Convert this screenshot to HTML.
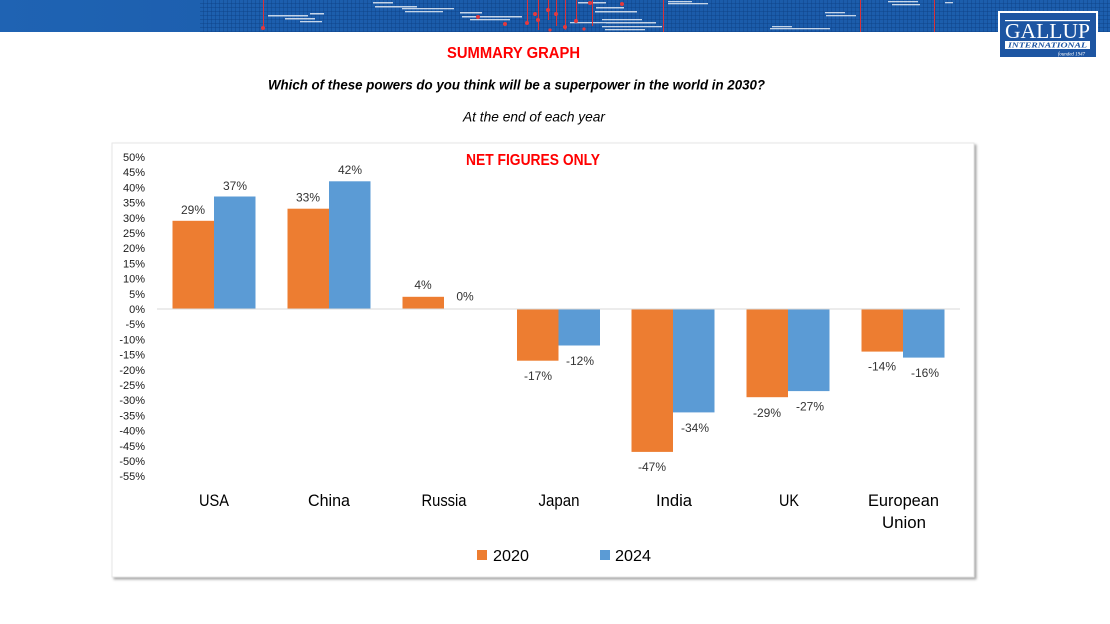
<!DOCTYPE html>
<html><head><meta charset="utf-8"><style>
html,body{margin:0;padding:0;background:#fff;}
svg{display:block;}
text{font-family:"Liberation Sans",sans-serif;}
</style></head><body>
<svg width="1110" height="624" viewBox="0 0 1110 624" xmlns="http://www.w3.org/2000/svg">
<defs>
<linearGradient id="bg" x1="0" y1="0" x2="1" y2="0">
<stop offset="0" stop-color="#1f63b3"/><stop offset="0.5" stop-color="#1a5aa8"/><stop offset="1" stop-color="#1d5fae"/>
</linearGradient>
<linearGradient id="fade" x1="0" y1="0" x2="1" y2="0">
<stop offset="0" stop-color="#fff" stop-opacity="0"/><stop offset="1" stop-color="#fff" stop-opacity="1"/>
</linearGradient>
<pattern id="grid" width="4" height="4" patternUnits="userSpaceOnUse">
<rect x="3" y="0" width="1" height="4" fill="#0d3f82" opacity="0.4"/>
<rect x="0" y="3" width="4" height="1" fill="#0d3f82" opacity="0.4"/>
</pattern>
<filter id="sh" x="-5%" y="-5%" width="110%" height="110%">
<feDropShadow dx="2" dy="2" stdDeviation="1.2" flood-color="#000" flood-opacity="0.35"/>
</filter>
</defs>

<!-- banner -->
<rect x="0" y="0" width="1110" height="32" fill="url(#bg)"/>
<rect x="200" y="0" width="910" height="32" fill="url(#grid)"/>
<g fill="#ffffff" opacity="0.75">
<rect x="268" y="15" width="40" height="1.5"/><rect x="310" y="13" width="14" height="1.5"/><rect x="285" y="18" width="30" height="1.5"/><rect x="300" y="21" width="22" height="1.3"/>
<rect x="373" y="2" width="20" height="1.5"/><rect x="375" y="6" width="42" height="1.5"/>
<rect x="402" y="8" width="52" height="1.3"/><rect x="405" y="11" width="38" height="1.3"/>
<rect x="460" y="12" width="22" height="1.5"/><rect x="462" y="16" width="60" height="1.5"/><rect x="470" y="19" width="40" height="1.3"/>
<rect x="596" y="7" width="28" height="1.5"/><rect x="595" y="11" width="42" height="1.5"/>
<rect x="602" y="19" width="40" height="1.3"/><rect x="606" y="22" width="50" height="1.5"/>
<rect x="578" y="2" width="28" height="1.5"/><rect x="570" y="22" width="56" height="1.3"/>
<rect x="602" y="26" width="60" height="1.3"/><rect x="605" y="29" width="40" height="1.3"/>
<rect x="668" y="1" width="24" height="1.3"/><rect x="668" y="3" width="40" height="1.3"/>
<rect x="770" y="28" width="60" height="1.3"/><rect x="772" y="26" width="20" height="1.3"/>
<rect x="825" y="12" width="20" height="1.3"/><rect x="826" y="15" width="30" height="1.3"/>
<rect x="888" y="1" width="30" height="1.3"/><rect x="892" y="4" width="28" height="1.3"/>
<rect x="945" y="2" width="8" height="1.3"/>
<rect x="1050" y="22" width="22" height="1.3"/>
</g>
<g stroke="#d8323a" stroke-width="1">
<line x1="263.5" y1="0" x2="263.5" y2="29"/>
<line x1="527.5" y1="0" x2="527.5" y2="24"/>
<line x1="538.5" y1="0" x2="538.5" y2="30"/>
<line x1="548.5" y1="0" x2="548.5" y2="20"/>
<line x1="556.5" y1="0" x2="556.5" y2="26"/>
<line x1="565.5" y1="0" x2="565.5" y2="30"/>
<line x1="576.5" y1="0" x2="576.5" y2="22"/>
<line x1="592.5" y1="0" x2="592.5" y2="26"/>
<line x1="663.5" y1="0" x2="663.5" y2="32"/>
<line x1="860.5" y1="0" x2="860.5" y2="32"/>
<line x1="934.5" y1="0" x2="934.5" y2="32"/>
</g>
<g fill="#e23a3f">
<circle cx="263" cy="28" r="2"/><circle cx="478" cy="17" r="2"/><circle cx="505" cy="24" r="2"/>
<circle cx="527" cy="23" r="2"/><circle cx="538" cy="20" r="2"/><circle cx="548" cy="10" r="2"/>
<circle cx="556" cy="14" r="2"/><circle cx="565" cy="27" r="2"/><circle cx="576" cy="21" r="2"/>
<circle cx="535" cy="14" r="2"/><circle cx="590" cy="3" r="2"/><circle cx="622" cy="4" r="2"/>
<circle cx="550" cy="30" r="1.6"/><circle cx="584" cy="29" r="1.6"/>
</g>

<!-- logo -->
<rect x="998" y="11" width="100" height="48" fill="#ffffff"/>
<rect x="999.5" y="12.5" width="97" height="45" fill="#1d55a2" stroke="#ffffff" stroke-width="1"/>
<rect x="1005" y="20" width="85" height="1.2" fill="#ffffff"/>
<text x="1005" y="38" font-size="21" fill="#ffffff" textLength="85" lengthAdjust="spacingAndGlyphs" style="font-family:'Liberation Serif',serif">GALLUP</text>
<rect x="1005" y="41" width="85" height="8" fill="#ffffff"/>
<text x="1008" y="47.6" font-size="7" font-weight="bold" font-style="italic" fill="#1d55a2" textLength="79" lengthAdjust="spacingAndGlyphs" style="font-family:'Liberation Serif',serif">INTERNATIONAL</text>
<text x="1058" y="55.5" font-size="5" font-style="italic" fill="#ffffff" textLength="27" lengthAdjust="spacingAndGlyphs" style="font-family:'Liberation Serif',serif">founded 1947</text>

<!-- titles -->
<text x="513.5" y="58" text-anchor="middle" font-size="16" font-weight="bold" fill="#ff0000" textLength="133" lengthAdjust="spacingAndGlyphs">SUMMARY GRAPH</text>
<text x="516.5" y="89.5" text-anchor="middle" font-size="14" font-weight="bold" font-style="italic" fill="#000" textLength="497" lengthAdjust="spacingAndGlyphs">Which of these powers do you think will be a superpower in the world in 2030?</text>
<text x="534" y="121.5" text-anchor="middle" font-size="14" font-style="italic" fill="#000" textLength="142" lengthAdjust="spacingAndGlyphs">At the end of each year</text>

<!-- panel -->
<rect x="112" y="143" width="862" height="434" fill="#ffffff" stroke="#e6e6e6" stroke-width="1" filter="url(#sh)"/>
<text x="533" y="165" text-anchor="middle" font-size="16" font-weight="bold" fill="#ff0000" textLength="134" lengthAdjust="spacingAndGlyphs">NET FIGURES ONLY</text>

<!-- y axis labels -->
<g font-size="11" fill="#1a1a1a" text-anchor="end">
<text x="145" y="161">50%</text>
<text x="145" y="176.2">45%</text>
<text x="145" y="191.4">40%</text>
<text x="145" y="206.6">35%</text>
<text x="145" y="221.8">30%</text>
<text x="145" y="237">25%</text>
<text x="145" y="252.2">20%</text>
<text x="145" y="267.4">15%</text>
<text x="145" y="282.6">10%</text>
<text x="145" y="297.8">5%</text>
<text x="145" y="313">0%</text>
<text x="145" y="328.2">-5%</text>
<text x="145" y="343.4">-10%</text>
<text x="145" y="358.6">-15%</text>
<text x="145" y="373.8">-20%</text>
<text x="145" y="389">-25%</text>
<text x="145" y="404.2">-30%</text>
<text x="145" y="419.4">-35%</text>
<text x="145" y="434.6">-40%</text>
<text x="145" y="449.8">-45%</text>
<text x="145" y="465">-50%</text>
<text x="145" y="480.2">-55%</text>
</g>

<!-- bars -->
<g fill="#ED7D31">
<rect x="172.5" y="220.8" width="41.5" height="88.2"/>
<rect x="287.5" y="208.7" width="41.5" height="100.3"/>
<rect x="402.5" y="296.8" width="41.5" height="12.2"/>
<rect x="517" y="309" width="41.5" height="51.7"/>
<rect x="631.5" y="309" width="41.5" height="142.9"/>
<rect x="746.5" y="309" width="41.5" height="88.2"/>
<rect x="861.5" y="309" width="41.5" height="42.6"/>
</g>
<g fill="#5B9BD5">
<rect x="214" y="196.5" width="41.5" height="112.5"/>
<rect x="329" y="181.3" width="41.5" height="127.7"/>
<rect x="558.5" y="309" width="41.5" height="36.5"/>
<rect x="673" y="309" width="41.5" height="103.4"/>
<rect x="788" y="309" width="41.5" height="82.1"/>
<rect x="903" y="309" width="41.5" height="48.6"/>
</g>
<line x1="157" y1="309" x2="960" y2="309" stroke="#d9d9d9" stroke-width="1"/>

<!-- data labels -->
<g font-size="12" fill="#333333" text-anchor="middle">
<text x="193" y="214">29%</text>
<text x="235" y="190">37%</text>
<text x="308" y="201.5">33%</text>
<text x="350" y="174">42%</text>
<text x="423" y="289">4%</text>
<text x="465" y="300.5">0%</text>
<text x="538" y="380">-17%</text>
<text x="580" y="365">-12%</text>
<text x="652" y="471">-47%</text>
<text x="695" y="432">-34%</text>
<text x="767" y="417">-29%</text>
<text x="810" y="410.5">-27%</text>
<text x="882" y="370.5">-14%</text>
<text x="925" y="377">-16%</text>
</g>

<!-- category labels -->
<g font-size="16.5" fill="#000" text-anchor="middle">
<text x="214" y="506" textLength="30" lengthAdjust="spacingAndGlyphs">USA</text>
<text x="329" y="506" textLength="42" lengthAdjust="spacingAndGlyphs">China</text>
<text x="444" y="506" textLength="45" lengthAdjust="spacingAndGlyphs">Russia</text>
<text x="559" y="506" textLength="41" lengthAdjust="spacingAndGlyphs">Japan</text>
<text x="674" y="506" textLength="36" lengthAdjust="spacingAndGlyphs">India</text>
<text x="789" y="506" textLength="20" lengthAdjust="spacingAndGlyphs">UK</text>
<text x="903.5" y="506" textLength="71" lengthAdjust="spacingAndGlyphs">European</text>
<text x="904" y="528" textLength="44" lengthAdjust="spacingAndGlyphs">Union</text>
</g>

<!-- legend -->
<rect x="477" y="550" width="10" height="10" fill="#ED7D31"/>
<text x="493" y="561" font-size="16" fill="#000" textLength="36" lengthAdjust="spacingAndGlyphs">2020</text>
<rect x="600" y="550" width="10" height="10" fill="#5B9BD5"/>
<text x="615" y="561" font-size="16" fill="#000" textLength="36" lengthAdjust="spacingAndGlyphs">2024</text>
</svg>
</body></html>
